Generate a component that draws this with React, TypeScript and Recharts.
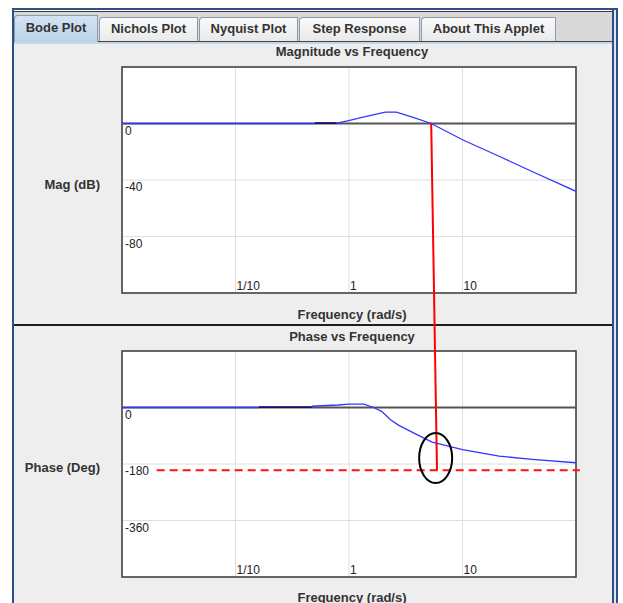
import React from 'react';
import {
  LineChart,
  Line,
  XAxis,
  YAxis,
  CartesianGrid,
  ReferenceLine,
  ReferenceArea,
  ReferenceDot,
} from 'recharts';

// ---------- data ----------
const tabLabels = ['Bode Plot', 'Nichols Plot', 'Nyquist Plot', 'Step Response', 'About This Applet'];

const freqTicks = [0.1, 1, 10];
const freqTickLabels = ['1/10', '1', '10'];
const magTicks = [0, -40, -80];
const phaseTicks = [0, -180, -360];

const magDomain: [number, number] = [-120, 40];
const phaseDomain: [number, number] = [-540, 180];
const freqDomain: [number, number] = [0.01, 100];

// magnitude curve (rad/s, dB)
const magFreqA = [0.01, 0.5];
const magDbA = [0, 0];
const magFreqDark = [0.5, 0.78];
const magDbDark = [0.3, 0.3];
const magFreqB = [0.78, 0.95, 1.39, 2.09, 2.62, 3.85, 5.3, 10, 21, 41, 100];
const magDbB = [0.2, 1.7, 4.9, 8, 8, 3.8, 0, -11.5, -23.2, -34, -48];

// phase curve (rad/s, deg)
const phFreqA = [0.01, 0.16];
const phDegA = [0, 0];
const phFreqDark = [0.16, 0.47];
const phDegDark = [1.5, 1.5];
const phFreqB = [0.47, 0.8, 1.0, 1.35, 1.65, 1.95, 2.32, 2.75, 3.85, 5.4, 10, 21, 41, 100];
const phDegB = [4, 8, 11, 11, 0, -13, -39, -57, -84, -110, -134, -155, -165, -176];

// annotation values
const crossoverFreq = 5.3; // 0 dB crossing
const markFreq = 5.96;
const markPhase = -200;
const dashStartFreq = 0.0202;
const dashEndFreq = 108;
const ellipseFreq = 5.8;
const ellipsePhase = -161;

const zip = (fs: number[], vs: number[]) => fs.map((f, i) => ({ f, v: vs[i] }));

// ---------- layout ----------
const W = 623;
const H = 603;
const PLOT_LEFT = 122;
const PLOT_RIGHT = 576;
const PLOT_H = 226;
const TOP_CHART_Y = 42;
const TOP_CHART_H = 283;
const BOT_CHART_Y = 326;
const BOT_CHART_H = 277;
const TOP_MARGIN = { top: 25, right: W - PLOT_RIGHT, bottom: TOP_CHART_H - 25 - PLOT_H, left: PLOT_LEFT };
const BOT_MARGIN = { top: 25, right: W - PLOT_RIGHT, bottom: BOT_CHART_H - 25 - PLOT_H, left: PLOT_LEFT };
const TAB_WIDTHS = [84, 99, 99, 121, 135];

const topZeroPx = TOP_CHART_Y + TOP_MARGIN.top + ((magDomain[1] - 0) / (magDomain[1] - magDomain[0])) * PLOT_H;
const phaseAtTopZero =
  phaseDomain[1] + ((BOT_CHART_Y + BOT_MARGIN.top - topZeroPx) / PLOT_H) * (phaseDomain[1] - phaseDomain[0]);

const FONT = '"Liberation Sans", Arial, sans-serif';
const TEXT = '#333333';
const BLUE = '#3535ff';
const DARK = '#10106a';
const GRID = '#dedede';

const freqTick = (props: any) => {
  const { x, y, payload } = props;
  const idx = freqTicks.indexOf(payload.value);
  return (
    <text x={x + 1} y={y - 3} fontSize={12} fill="#222" fontFamily={FONT} textAnchor="start">
      {idx >= 0 ? freqTickLabels[idx] : ''}
    </text>
  );
};

const valTick = (props: any) => {
  const { y, payload } = props;
  return (
    <text x={PLOT_LEFT + 3} y={y + 11} fontSize={12} fill="#222" fontFamily={FONT} textAnchor="start">
      {payload.value}
    </text>
  );
};

const EllipseShape = (props: any) => (
  <ellipse cx={props.cx} cy={props.cy} rx={16.5} ry={25} fill="none" stroke="#000" strokeWidth={2} />
);

const boldText: React.CSSProperties = {
  position: 'absolute',
  fontFamily: FONT,
  fontWeight: 'bold',
  fontSize: 13,
  lineHeight: '15px',
  color: TEXT,
  whiteSpace: 'nowrap',
};

function Axes({ domain, ticks }: { domain: [number, number]; ticks: number[] }) {
  return null;
}

const renderAxes = (domain: [number, number], ticks: number[]) => [
  <XAxis
    key="x"
    dataKey="f"
    type="number"
    scale="log"
    domain={freqDomain}
    allowDataOverflow
    ticks={freqTicks}
    mirror
    axisLine={false}
    tickLine={false}
    tickSize={0}
    tickMargin={0}
    tick={freqTick}
    interval={0}
  />,
  <YAxis
    key="y"
    type="number"
    domain={domain}
    allowDataOverflow
    ticks={ticks}
    mirror
    axisLine={false}
    tickLine={false}
    tickSize={0}
    tickMargin={0}
    tick={valTick}
    interval={0}
  />,
];

export default function App() {
  return (
    <div
      style={{
        position: 'absolute',
        left: 0,
        top: 0,
        width: W,
        height: H,
        background: '#ffffff',
        overflow: 'hidden',
        fontFamily: FONT,
      }}
    >
      <style>{'svg.recharts-surface{overflow:visible}'}</style>
      {/* panel background */}
      <div style={{ position: 'absolute', left: 14, top: 12, width: 599, height: H - 12, background: '#eeeeee' }} />
      {/* tab strip */}
      <div style={{ position: 'absolute', left: 14, top: 12, width: 599, height: 29, background: '#d9d9d9' }} />
      <div style={{ position: 'absolute', left: 14, top: 41, width: 599, height: 1, background: '#444' }} />
      <div style={{ position: 'absolute', left: 14, top: 42, width: 599, height: 2, background: '#c4d6ea' }} />
      <div style={{ position: 'absolute', left: 14, top: 15, height: 26, display: 'flex', gap: 1 }}>
        {tabLabels.map((t, i) => (
          <div
            key={t}
            style={{
              width: TAB_WIDTHS[i],
              height: i === 0 ? 27 : 24,
              marginTop: i === 0 ? 0 : 2,
              textAlign: 'center',
              boxSizing: 'border-box',
              border: '1px solid #8c9aab',
              borderBottom: 'none',
              borderTopLeftRadius: 4,
              background: i === 0 ? 'linear-gradient(#d3e3f4,#bcd2ea)' : 'linear-gradient(#fafafa,#e9e9e9)',
              fontWeight: 'bold',
              fontSize: 13,
              lineHeight: i === 0 ? '24px' : '21px',
              color: TEXT,
              whiteSpace: 'nowrap',
            }}
          >
            {t}
          </div>
        ))}
      </div>
      {/* window frame */}
      <div style={{ position: 'absolute', left: 13, top: 8, width: 605, height: 2, background: '#2c4f88' }} />
      <div style={{ position: 'absolute', left: 13, top: 11, width: 600, height: 1, background: '#3a3a3a' }} />
      <div style={{ position: 'absolute', left: 12, top: 8, width: 2, height: H - 8, background: '#2c4f88' }} />
      <div style={{ position: 'absolute', left: 612, top: 8, width: 2, height: H - 8, background: '#2c4f88' }} />
      <div style={{ position: 'absolute', left: 616, top: 8, width: 2, height: H - 8, background: '#2c4f88' }} />
      <div style={{ position: 'absolute', left: 614, top: 10, width: 2, height: H - 10, background: '#dfe6f0' }} />

      {/* titles */}
      <div style={{ ...boldText, left: 252, width: 200, textAlign: 'center', top: 44 }}>Magnitude vs Frequency</div>
      <div style={{ ...boldText, left: 252, width: 200, textAlign: 'center', top: 307 }}>Frequency (rad/s)</div>
      <div style={{ ...boldText, left: 252, width: 200, textAlign: 'center', top: 329 }}>Phase vs Frequency</div>
      <div style={{ ...boldText, left: 252, width: 200, textAlign: 'center', top: 590 }}>Frequency (rad/s)</div>
      <div style={{ ...boldText, left: 0, width: 100, textAlign: 'right', top: 177 }}>Mag (dB)</div>
      <div style={{ ...boldText, left: 0, width: 100, textAlign: 'right', top: 460 }}>Phase (Deg)</div>

      {/* separator */}
      <div style={{ position: 'absolute', left: 14, top: 324, width: 598, height: 2, background: '#1e1e1e' }} />

      {/* magnitude chart */}
      <div style={{ position: 'absolute', left: 0, top: TOP_CHART_Y }}>
        <LineChart width={W} height={TOP_CHART_H} margin={TOP_MARGIN}>
          <CartesianGrid stroke={GRID} fill="#ffffff" />
          {renderAxes(magDomain, magTicks)}
          <ReferenceLine y={0} stroke="#555" strokeWidth={2} />
          <ReferenceArea
            x1={freqDomain[0]}
            x2={freqDomain[1]}
            y1={magDomain[0]}
            y2={magDomain[1]}
            fill="none"
            stroke="#3a3a3a"
            strokeWidth={1.5}
            ifOverflow="visible"
          />
          <Line data={zip(magFreqA, magDbA)} dataKey="v" stroke={BLUE} strokeWidth={1.3} dot={false} isAnimationActive={false} />
          <Line data={zip(magFreqDark, magDbDark)} dataKey="v" stroke={DARK} strokeWidth={1.8} dot={false} isAnimationActive={false} />
          <Line data={zip(magFreqB, magDbB)} dataKey="v" stroke={BLUE} strokeWidth={1.3} dot={false} isAnimationActive={false} />
        </LineChart>
      </div>

      {/* phase chart */}
      <div style={{ position: 'absolute', left: 0, top: BOT_CHART_Y }}>
        <LineChart width={W} height={BOT_CHART_H} margin={BOT_MARGIN}>
          <CartesianGrid stroke={GRID} fill="#ffffff" />
          {renderAxes(phaseDomain, phaseTicks)}
          <ReferenceLine y={0} stroke="#555" strokeWidth={2} />
          <ReferenceArea
            x1={freqDomain[0]}
            x2={freqDomain[1]}
            y1={phaseDomain[0]}
            y2={phaseDomain[1]}
            fill="none"
            stroke="#3a3a3a"
            strokeWidth={1.5}
            ifOverflow="visible"
          />
          <Line data={zip(phFreqA, phDegA)} dataKey="v" stroke={BLUE} strokeWidth={1.3} dot={false} isAnimationActive={false} />
          <Line data={zip(phFreqDark, phDegDark)} dataKey="v" stroke={DARK} strokeWidth={1.8} dot={false} isAnimationActive={false} />
          <Line data={zip(phFreqB, phDegB)} dataKey="v" stroke={BLUE} strokeWidth={1.3} dot={false} isAnimationActive={false} />
          <ReferenceLine
            segment={[
              { x: dashStartFreq, y: markPhase },
              { x: dashEndFreq, y: markPhase },
            ]}
            stroke="#ff1010"
            strokeWidth={2}
            strokeDasharray="8 5"
            ifOverflow="visible"
          />
          <ReferenceLine
            segment={[
              { x: crossoverFreq, y: phaseAtTopZero },
              { x: markFreq, y: markPhase },
            ]}
            stroke="#ff0000"
            strokeWidth={2}
            ifOverflow="visible"
          />
          <ReferenceDot x={ellipseFreq} y={ellipsePhase} r={1} shape={EllipseShape} ifOverflow="visible" />
        </LineChart>
      </div>
    </div>
  );
}
